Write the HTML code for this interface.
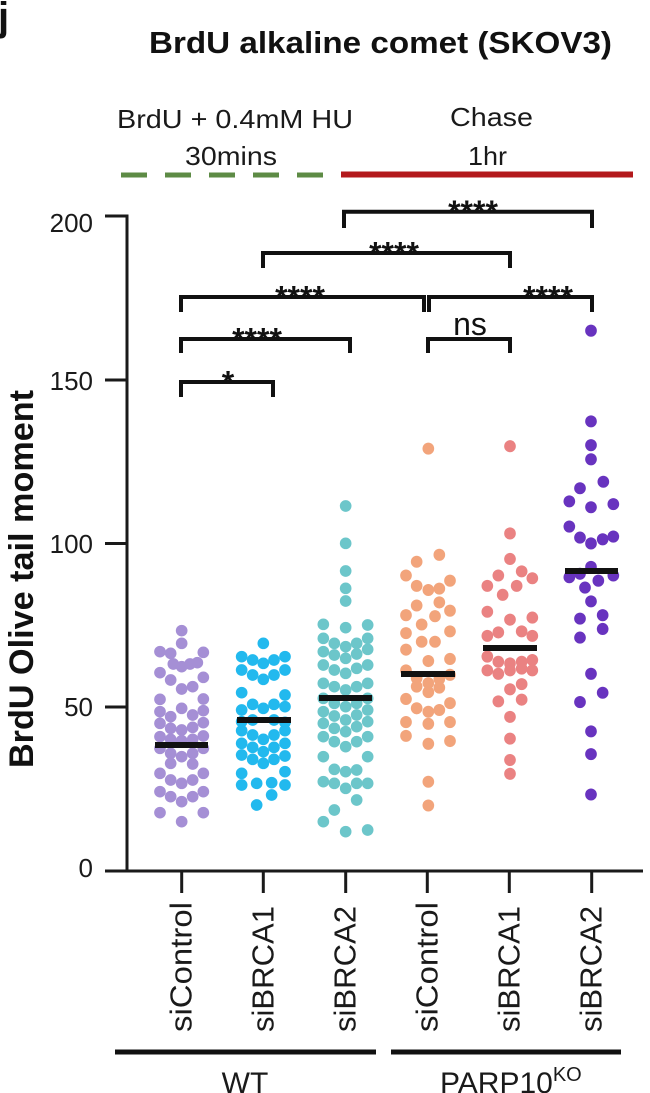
<!DOCTYPE html>
<html>
<head>
<meta charset="utf-8">
<style>
html,body{margin:0;padding:0;background:#fff;}
svg{display:block;font-family:"Liberation Sans",Arial,sans-serif;}
</style>
</head>
<body>
<svg width="650" height="1093" viewBox="0 0 650 1093" xmlns="http://www.w3.org/2000/svg">
<rect width="650" height="1093" fill="#fff"/>
<!-- panel letter & title -->
<text x="-2" y="30" font-size="40" font-weight="bold" fill="#111">j</text>
<text x="149" y="53" font-size="31" font-weight="bold" fill="#111" textLength="463" lengthAdjust="spacingAndGlyphs">BrdU alkaline comet (SKOV3)</text>

<!-- header -->
<text x="117" y="128" font-size="26" fill="#1a1a1a" textLength="236" lengthAdjust="spacingAndGlyphs">BrdU + 0.4mM HU</text>
<text x="185" y="165" font-size="26" fill="#1a1a1a" textLength="92" lengthAdjust="spacingAndGlyphs">30mins</text>
<text x="450" y="126" font-size="26" fill="#1a1a1a" textLength="83" lengthAdjust="spacingAndGlyphs">Chase</text>
<text x="468" y="165" font-size="26" fill="#1a1a1a" textLength="39" lengthAdjust="spacingAndGlyphs">1hr</text>
<line x1="121" y1="175" x2="323" y2="175" stroke="#5d8b45" stroke-width="5" stroke-dasharray="26 18"/>
<line x1="341" y1="174.5" x2="633" y2="174.5" stroke="#b3191c" stroke-width="6"/>

<!-- Group 1 lavender -->
<g transform="translate(140,490) scale(0.33333)" fill="#a58fd5">
<circle cx="125" cy="422" r="17.5"/><circle cx="125" cy="460" r="17.5"/>
<circle cx="60" cy="485" r="17.5"/><circle cx="92" cy="490" r="17.5"/><circle cx="190" cy="487" r="17.5"/>
<circle cx="100" cy="522" r="17.5"/><circle cx="125" cy="530" r="17.5"/><circle cx="150" cy="522" r="17.5"/><circle cx="172" cy="518" r="17.5"/>
<circle cx="60" cy="548" r="17.5"/><circle cx="92" cy="570" r="17.5"/><circle cx="190" cy="562" r="17.5"/>
<circle cx="125" cy="597" r="17.5"/><circle cx="158" cy="590" r="17.5"/>
<circle cx="60" cy="628" r="17.5"/><circle cx="190" cy="627" r="17.5"/>
<circle cx="125" cy="655" r="17.5"/>
<circle cx="60" cy="665" r="17.5"/><circle cx="92" cy="680" r="17.5"/><circle cx="158" cy="675" r="17.5"/><circle cx="190" cy="662" r="17.5"/>
<circle cx="60" cy="700" r="17.5"/><circle cx="92" cy="715" r="17.5"/><circle cx="125" cy="720" r="17.5"/><circle cx="158" cy="712" r="17.5"/><circle cx="190" cy="698" r="17.5"/>
<circle cx="60" cy="740" r="17.5"/><circle cx="92" cy="748" r="17.5"/><circle cx="125" cy="752" r="17.5"/><circle cx="158" cy="748" r="17.5"/><circle cx="190" cy="738" r="17.5"/>
<circle cx="60" cy="775" r="17.5"/><circle cx="92" cy="790" r="17.5"/><circle cx="125" cy="800" r="17.5"/><circle cx="158" cy="790" r="17.5"/><circle cx="190" cy="775" r="17.5"/>
<circle cx="92" cy="820" r="17.5"/><circle cx="158" cy="822" r="17.5"/>
<circle cx="60" cy="850" r="17.5"/><circle cx="92" cy="870" r="17.5"/><circle cx="125" cy="880" r="17.5"/><circle cx="158" cy="870" r="17.5"/><circle cx="190" cy="850" r="17.5"/>
<circle cx="60" cy="905" r="17.5"/><circle cx="92" cy="920" r="17.5"/><circle cx="125" cy="935" r="17.5"/><circle cx="158" cy="920" r="17.5"/><circle cx="190" cy="905" r="17.5"/>
<circle cx="60" cy="968" r="17.5"/><circle cx="190" cy="968" r="17.5"/><circle cx="125" cy="995" r="17.5"/>
</g>

<!-- Group 2 blue -->
<g transform="translate(140,490) scale(0.33333)" fill="#22b9ee">
<circle cx="370" cy="460" r="17.5"/>
<circle cx="305" cy="500" r="17.5"/><circle cx="338" cy="510" r="17.5"/><circle cx="370" cy="520" r="17.5"/><circle cx="402" cy="510" r="17.5"/><circle cx="435" cy="500" r="17.5"/>
<circle cx="305" cy="540" r="17.5"/><circle cx="338" cy="555" r="17.5"/><circle cx="370" cy="568" r="17.5"/><circle cx="402" cy="555" r="17.5"/><circle cx="435" cy="540" r="17.5"/>
<circle cx="305" cy="608" r="17.5"/><circle cx="435" cy="615" r="17.5"/>
<circle cx="338" cy="643" r="17.5"/><circle cx="370" cy="655" r="17.5"/><circle cx="402" cy="643" r="17.5"/><circle cx="435" cy="650" r="17.5"/><circle cx="305" cy="660" r="17.5"/>
<circle cx="305" cy="695" r="17.5"/><circle cx="338" cy="690" r="17.5"/><circle cx="402" cy="690" r="17.5"/><circle cx="435" cy="697" r="17.5"/>
<circle cx="305" cy="722" r="17.5"/><circle cx="338" cy="735" r="17.5"/><circle cx="370" cy="748" r="17.5"/><circle cx="402" cy="735" r="17.5"/><circle cx="435" cy="722" r="17.5"/>
<circle cx="305" cy="760" r="17.5"/><circle cx="338" cy="772" r="17.5"/><circle cx="370" cy="785" r="17.5"/><circle cx="402" cy="772" r="17.5"/><circle cx="435" cy="760" r="17.5"/>
<circle cx="305" cy="795" r="17.5"/><circle cx="338" cy="808" r="17.5"/><circle cx="370" cy="820" r="17.5"/><circle cx="402" cy="808" r="17.5"/><circle cx="435" cy="798" r="17.5"/>
<circle cx="305" cy="850" r="17.5"/><circle cx="435" cy="845" r="17.5"/>
<circle cx="305" cy="885" r="17.5"/><circle cx="350" cy="880" r="17.5"/><circle cx="395" cy="878" r="17.5"/><circle cx="435" cy="885" r="17.5"/>
<circle cx="395" cy="915" r="17.5"/><circle cx="350" cy="945" r="17.5"/>
</g>

<!-- Group 3 teal -->
<g transform="translate(140,490) scale(0.33333)" fill="#6cc6ca">
<circle cx="617" cy="48" r="17.5"/><circle cx="617" cy="160" r="17.5"/><circle cx="617" cy="243" r="17.5"/><circle cx="617" cy="295" r="17.5"/><circle cx="617" cy="333" r="17.5"/>
<circle cx="550" cy="403" r="17.5"/><circle cx="617" cy="413" r="17.5"/><circle cx="683" cy="405" r="17.5"/>
<circle cx="550" cy="445" r="17.5"/><circle cx="583" cy="460" r="17.5"/><circle cx="617" cy="470" r="17.5"/><circle cx="650" cy="460" r="17.5"/><circle cx="683" cy="445" r="17.5"/>
<circle cx="550" cy="485" r="17.5"/><circle cx="583" cy="495" r="17.5"/><circle cx="617" cy="505" r="17.5"/><circle cx="650" cy="492" r="17.5"/><circle cx="683" cy="478" r="17.5"/>
<circle cx="550" cy="525" r="17.5"/><circle cx="583" cy="540" r="17.5"/><circle cx="617" cy="550" r="17.5"/><circle cx="650" cy="535" r="17.5"/><circle cx="683" cy="525" r="17.5"/>
<circle cx="550" cy="580" r="17.5"/><circle cx="583" cy="590" r="17.5"/><circle cx="617" cy="600" r="17.5"/><circle cx="650" cy="590" r="17.5"/><circle cx="683" cy="580" r="17.5"/>
<circle cx="550" cy="625" r="17.5"/><circle cx="583" cy="640" r="17.5"/><circle cx="617" cy="650" r="17.5"/><circle cx="650" cy="640" r="17.5"/><circle cx="683" cy="625" r="17.5"/>
<circle cx="550" cy="665" r="17.5"/><circle cx="583" cy="678" r="17.5"/><circle cx="617" cy="690" r="17.5"/><circle cx="650" cy="675" r="17.5"/><circle cx="683" cy="660" r="17.5"/>
<circle cx="550" cy="700" r="17.5"/><circle cx="583" cy="715" r="17.5"/><circle cx="617" cy="725" r="17.5"/><circle cx="650" cy="710" r="17.5"/><circle cx="683" cy="695" r="17.5"/>
<circle cx="550" cy="740" r="17.5"/><circle cx="583" cy="755" r="17.5"/><circle cx="617" cy="770" r="17.5"/><circle cx="650" cy="755" r="17.5"/><circle cx="683" cy="740" r="17.5"/>
<circle cx="550" cy="800" r="17.5"/><circle cx="683" cy="800" r="17.5"/>
<circle cx="583" cy="838" r="17.5"/><circle cx="617" cy="845" r="17.5"/><circle cx="650" cy="840" r="17.5"/>
<circle cx="550" cy="875" r="17.5"/><circle cx="583" cy="880" r="17.5"/><circle cx="617" cy="895" r="17.5"/><circle cx="650" cy="880" r="17.5"/><circle cx="683" cy="880" r="17.5"/>
<circle cx="650" cy="930" r="17.5"/><circle cx="583" cy="960" r="17.5"/>
<circle cx="550" cy="995" r="17.5"/><circle cx="617" cy="1025" r="17.5"/><circle cx="683" cy="1020" r="17.5"/>
</g>

<!-- Group 4 orange -->
<g transform="translate(380,310) scale(0.33333,0.34483)" fill="#f2a47b">
<circle cx="145" cy="402" r="17.5"/>
<circle cx="178" cy="710" r="17.5"/><circle cx="110" cy="730" r="17.5"/><circle cx="78" cy="770" r="17.5"/><circle cx="210" cy="785" r="17.5"/>
<circle cx="110" cy="800" r="17.5"/><circle cx="145" cy="812" r="17.5"/><circle cx="178" cy="808" r="17.5"/>
<circle cx="178" cy="848" r="17.5"/><circle cx="110" cy="857" r="17.5"/>
<circle cx="78" cy="885" r="17.5"/><circle cx="210" cy="872" r="17.5"/><circle cx="165" cy="888" r="17.5"/>
<circle cx="125" cy="912" r="17.5"/><circle cx="78" cy="937" r="17.5"/><circle cx="210" cy="932" r="17.5"/>
<circle cx="125" cy="962" r="17.5"/><circle cx="165" cy="962" r="17.5"/><circle cx="78" cy="985" r="17.5"/>
<circle cx="145" cy="1018" r="17.5"/><circle cx="210" cy="1012" r="17.5"/>
<circle cx="78" cy="1045" r="17.5"/><circle cx="110" cy="1068" r="17.5"/><circle cx="145" cy="1082" r="17.5"/><circle cx="178" cy="1070" r="17.5"/><circle cx="210" cy="1058" r="17.5"/>
<circle cx="110" cy="1092" r="17.5"/><circle cx="145" cy="1108" r="17.5"/><circle cx="178" cy="1095" r="17.5"/>
<circle cx="78" cy="1128" r="17.5"/><circle cx="110" cy="1155" r="17.5"/><circle cx="145" cy="1165" r="17.5"/><circle cx="178" cy="1160" r="17.5"/><circle cx="210" cy="1140" r="17.5"/>
<circle cx="78" cy="1195" r="17.5"/><circle cx="145" cy="1200" r="17.5"/><circle cx="210" cy="1195" r="17.5"/>
<circle cx="78" cy="1235" r="17.5"/><circle cx="145" cy="1258" r="17.5"/><circle cx="210" cy="1250" r="17.5"/>
<circle cx="145" cy="1368" r="17.5"/><circle cx="145" cy="1437" r="17.5"/>
</g>

<!-- Group 5 pink -->
<g transform="translate(380,310) scale(0.33333,0.34483)" fill="#ea8282">
<circle cx="390" cy="395" r="17.5"/><circle cx="390" cy="648" r="17.5"/><circle cx="390" cy="722" r="17.5"/>
<circle cx="355" cy="770" r="17.5"/><circle cx="425" cy="758" r="17.5"/><circle cx="457" cy="778" r="17.5"/>
<circle cx="322" cy="800" r="17.5"/><circle cx="410" cy="800" r="17.5"/><circle cx="368" cy="826" r="17.5"/>
<circle cx="322" cy="875" r="17.5"/><circle cx="390" cy="898" r="17.5"/><circle cx="457" cy="892" r="17.5"/>
<circle cx="322" cy="945" r="17.5"/><circle cx="355" cy="935" r="17.5"/><circle cx="425" cy="932" r="17.5"/><circle cx="457" cy="945" r="17.5"/>
<circle cx="322" cy="1005" r="17.5"/><circle cx="355" cy="1020" r="17.5"/><circle cx="390" cy="1025" r="17.5"/><circle cx="425" cy="1020" r="17.5"/><circle cx="457" cy="1015" r="17.5"/>
<circle cx="322" cy="1045" r="17.5"/><circle cx="355" cy="1055" r="17.5"/><circle cx="390" cy="1045" r="17.5"/><circle cx="425" cy="1040" r="17.5"/><circle cx="457" cy="1045" r="17.5"/>
<circle cx="390" cy="1100" r="17.5"/><circle cx="425" cy="1085" r="17.5"/>
<circle cx="355" cy="1135" r="17.5"/><circle cx="425" cy="1130" r="17.5"/>
<circle cx="390" cy="1180" r="17.5"/><circle cx="390" cy="1243" r="17.5"/><circle cx="390" cy="1305" r="17.5"/><circle cx="390" cy="1345" r="17.5"/>
</g>

<!-- Group 6 purple -->
<g transform="translate(380,310) scale(0.33333,0.34483)" fill="#6833bf">
<circle cx="633" cy="60" r="17.5"/><circle cx="633" cy="323" r="17.5"/><circle cx="633" cy="392" r="17.5"/><circle cx="633" cy="433" r="17.5"/>
<circle cx="670" cy="498" r="17.5"/><circle cx="600" cy="517" r="17.5"/><circle cx="568" cy="555" r="17.5"/><circle cx="633" cy="572" r="17.5"/><circle cx="700" cy="563" r="17.5"/>
<circle cx="568" cy="628" r="17.5"/><circle cx="600" cy="660" r="17.5"/><circle cx="633" cy="677" r="17.5"/><circle cx="668" cy="665" r="17.5"/><circle cx="700" cy="657" r="17.5"/>
<circle cx="633" cy="745" r="17.5"/><circle cx="568" cy="775" r="17.5"/><circle cx="600" cy="765" r="17.5"/><circle cx="655" cy="785" r="17.5"/><circle cx="700" cy="770" r="17.5"/>
<circle cx="615" cy="805" r="17.5"/><circle cx="633" cy="845" r="17.5"/>
<circle cx="600" cy="895" r="17.5"/><circle cx="668" cy="885" r="17.5"/><circle cx="668" cy="925" r="17.5"/><circle cx="600" cy="950" r="17.5"/>
<circle cx="633" cy="1055" r="17.5"/><circle cx="668" cy="1110" r="17.5"/><circle cx="600" cy="1137" r="17.5"/>
<circle cx="633" cy="1222" r="17.5"/><circle cx="633" cy="1288" r="17.5"/><circle cx="633" cy="1405" r="17.5"/>
</g>

<!-- means -->
<g stroke="#111" stroke-width="6">
<line x1="155" y1="745" x2="208" y2="745"/>
<line x1="237" y1="720" x2="291" y2="720"/>
<line x1="319" y1="698" x2="372" y2="698"/>
<line x1="401" y1="674" x2="455" y2="674"/>
<line x1="483" y1="648" x2="537" y2="648"/>
<line x1="565" y1="571" x2="618" y2="571"/>
</g>

<!-- axes -->
<g stroke="#1a1a1a" stroke-width="3" fill="none">
<line x1="127" y1="214.5" x2="127" y2="872.5"/>
<line x1="105" y1="216" x2="127" y2="216"/>
<line x1="105" y1="380" x2="127" y2="380"/>
<line x1="105" y1="543.5" x2="127" y2="543.5"/>
<line x1="105" y1="707" x2="127" y2="707"/>
<line x1="105" y1="871" x2="127" y2="871"/>
<line x1="125.5" y1="871" x2="643" y2="871"/>
<line x1="181.7" y1="871" x2="181.7" y2="893"/>
<line x1="263.3" y1="871" x2="263.3" y2="893"/>
<line x1="345.7" y1="871" x2="345.7" y2="893"/>
<line x1="427.3" y1="871" x2="427.3" y2="893"/>
<line x1="509.3" y1="871" x2="509.3" y2="893"/>
<line x1="591.7" y1="871" x2="591.7" y2="893"/>
</g>
<g font-size="26" fill="#1a1a1a" text-anchor="end">
<text x="93" y="232">200</text>
<text x="93" y="390">150</text>
<text x="93" y="553">100</text>
<text x="93" y="716">50</text>
<text x="93" y="877">0</text>
</g>
<text transform="translate(33,579) rotate(-90)" text-anchor="middle" font-size="34" font-weight="bold" fill="#111" textLength="378" lengthAdjust="spacingAndGlyphs">BrdU Olive tail moment</text>

<!-- brackets -->
<g stroke="#111" stroke-width="4" fill="none">
<path d="M344,228 V211.7 H592 V228"/>
<path d="M263,268 V253 H510 V268"/>
<path d="M181,312 V297 H424 V312"/>
<path d="M429,312 V297 H592 V312"/>
<path d="M181,353 V339 H350 V353"/>
<path d="M428,353 V339 H510 V353"/>
<path d="M181,397 V382 H273 V397"/>
</g>
<g font-size="32" font-weight="bold" fill="#111" text-anchor="middle">
<text x="473" y="223">****</text>
<text x="394" y="264.5">****</text>
<text x="300" y="308.5">****</text>
<text x="548" y="308.5">****</text>
<text x="257" y="350.5">****</text>
<text x="228" y="393.5">*</text>
</g>
<text x="470" y="335" font-size="32" fill="#111" text-anchor="middle">ns</text>

<!-- category labels -->
<g font-size="31" fill="#1a1a1a">
<text transform="translate(191.7,1032) rotate(-90)" textLength="130" lengthAdjust="spacingAndGlyphs">siControl</text>
<text transform="translate(273.3,1032) rotate(-90)" textLength="126" lengthAdjust="spacingAndGlyphs">siBRCA1</text>
<text transform="translate(355.7,1032) rotate(-90)" textLength="126" lengthAdjust="spacingAndGlyphs">siBRCA2</text>
<text transform="translate(437.3,1032) rotate(-90)" textLength="130" lengthAdjust="spacingAndGlyphs">siControl</text>
<text transform="translate(519.3,1032) rotate(-90)" textLength="126" lengthAdjust="spacingAndGlyphs">siBRCA1</text>
<text transform="translate(601.7,1032) rotate(-90)" textLength="126" lengthAdjust="spacingAndGlyphs">siBRCA2</text>
</g>

<!-- group lines -->
<g stroke="#111" stroke-width="5">
<line x1="115" y1="1052" x2="376" y2="1052"/>
<line x1="391" y1="1052" x2="621" y2="1052"/>
</g>
<text x="245" y="1093" font-size="30" fill="#1a1a1a" text-anchor="middle">WT</text>
<text x="440" y="1093" font-size="30" fill="#1a1a1a">PARP10<tspan font-size="20" dy="-12">KO</tspan></text>
</svg>
</body>
</html>
